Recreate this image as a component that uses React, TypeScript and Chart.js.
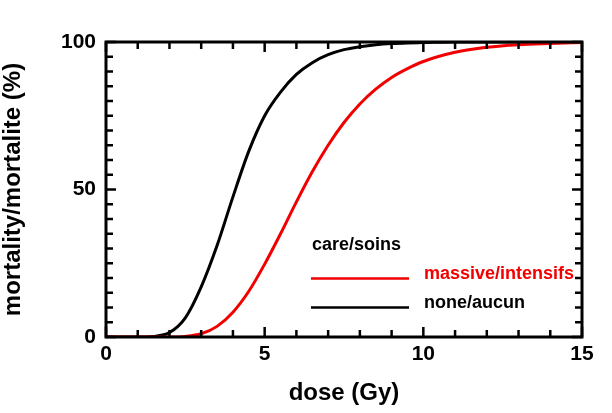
import React, { useEffect, useRef } from "react";
import { Chart, registerables } from "chart.js";

Chart.register(...registerables);

const doses = [0, 1, 1.5, 2, 2.5, 3, 3.5, 4, 4.5, 5, 5.5, 6, 6.5, 7, 7.5, 8, 8.5, 9, 9.5, 10, 11, 12, 13, 14, 15];
const noneMortality = [0, 0, 0.2, 1.5, 6.5, 17, 31, 47.5, 63, 75, 83, 89, 93, 95.7, 97.4, 98.4, 99.1, 99.5, 99.7, 99.8, 100, 100, 100, 100, 100];
const massiveMortality = [0, 0, 0, 0, 0.2, 1.1, 3.6, 8.4, 15.5, 24.7, 35, 45.8, 56, 65, 72.7, 79, 84, 88, 91, 93.4, 96.5, 98.2, 99.1, 99.5, 99.8];

const seriesLabels = ["massive/intensifs", "none/aucun"];
const legendTitle = "care/soins";
const xTitle = "dose (Gy)";
const yTitle = "mortality/mortalite (%)";
const xMajorTicks = [0, 5, 10, 15];
const yMajorTicks = [0, 50, 100];
const xMinorTicks = [1, 2, 3, 4, 6, 7, 8, 9, 11, 12, 13, 14];
const yMinorTicks = [5, 10, 15, 20, 25, 30, 35, 40, 45, 55, 60, 65, 70, 75, 80, 85, 90, 95];

const RED = "#f20000";
const FONT = "'Liberation Sans', Arial, Helvetica, sans-serif";

const framePlugin = {
  id: "frame",
  afterDatasetsDraw(chart: any) {
    const { ctx, chartArea: a, scales } = chart;
    const xs = scales.x;
    const ys = scales.y;
    ctx.save();
    ctx.strokeStyle = "#000";
    ctx.lineWidth = 2.5;
    ctx.beginPath();
    const xt = (v: number, len: number) => {
      const px = xs.getPixelForValue(v);
      ctx.moveTo(px, a.bottom);
      ctx.lineTo(px, a.bottom - len);
      ctx.moveTo(px, a.top);
      ctx.lineTo(px, a.top + len);
    };
    const yt = (v: number, len: number) => {
      const py = ys.getPixelForValue(v);
      ctx.moveTo(a.left, py);
      ctx.lineTo(a.left + len, py);
      ctx.moveTo(a.right, py);
      ctx.lineTo(a.right - len, py);
    };
    xMinorTicks.forEach((v) => xt(v, 7));
    xMajorTicks.forEach((v) => xt(v, 10));
    yMinorTicks.forEach((v) => yt(v, 7));
    yMajorTicks.forEach((v) => yt(v, 10));
    ctx.stroke();
    ctx.lineWidth = 3;
    ctx.strokeRect(a.left, a.top, a.right - a.left, a.bottom - a.top);

    // legend
    const ds = chart.data.datasets;
    ctx.font = `bold 18px ${FONT}`;
    ctx.textAlign = "left";
    ctx.textBaseline = "alphabetic";
    ctx.fillStyle = "#000";
    ctx.fillText(legendTitle, 312, 250);
    const rows = [
      { y: 278.5, tb: 279 },
      { y: 307.5, tb: 308 },
    ];
    ds.forEach((d: any, i: number) => {
      ctx.strokeStyle = d.borderColor;
      ctx.lineWidth = 2.5;
      ctx.beginPath();
      ctx.moveTo(311, rows[i].y);
      ctx.lineTo(409, rows[i].y);
      ctx.stroke();
      ctx.fillStyle = d.borderColor;
      ctx.fillText(d.label, 424, rows[i].tb);
    });
    ctx.restore();
  },
};

export default function App() {
  const ref = useRef<HTMLCanvasElement | null>(null);
  useEffect(() => {
    if (!ref.current) return;
    const chart = new Chart(ref.current, {
      type: "line",
      data: {
        datasets: [
          {
            label: seriesLabels[0],
            data: doses.map((d, i) => ({ x: d, y: massiveMortality[i] })),
            borderColor: RED,
            borderWidth: 3,
            pointRadius: 0,
            cubicInterpolationMode: "monotone",
            fill: false,
          },
          {
            label: seriesLabels[1],
            data: doses.map((d, i) => ({ x: d, y: noneMortality[i] })),
            borderColor: "#000000",
            borderWidth: 3,
            pointRadius: 0,
            cubicInterpolationMode: "monotone",
            fill: false,
          },
        ],
      },
      options: {
        animation: false,
        responsive: false,
        devicePixelRatio: 1,
        layout: { padding: { left: 0, top: 42, right: 30, bottom: 0 } },
        plugins: { legend: { display: false }, tooltip: { enabled: false } },
        scales: {
          x: {
            type: "linear",
            min: 0,
            max: 15,
            grid: { display: false, drawTicks: false },
            border: { display: false },
            afterBuildTicks: (s: any) => {
              s.ticks = xMajorTicks.map((v) => ({ value: v }));
            },
            afterFit: (s: any) => {
              s.height = 76;
            },
            ticks: {
              padding: 5,
              color: "#000",
              font: { family: FONT, size: 21, weight: "bold", lineHeight: 1.2 },
            },
            title: {
              display: true,
              text: xTitle,
              color: "#000",
              font: { family: FONT, size: 24, weight: "bold", lineHeight: 1 },
              padding: { top: 0, bottom: 8 },
            },
          },
          y: {
            type: "linear",
            min: 0,
            max: 100,
            grid: { display: false, drawTicks: false },
            border: { display: false },
            afterBuildTicks: (s: any) => {
              s.ticks = yMajorTicks.map((v) => ({ value: v }));
            },
            afterFit: (s: any) => {
              s.width = 106;
            },
            ticks: {
              padding: 10,
              color: "#000",
              font: { family: FONT, size: 21, weight: "bold" },
            },
            title: {
              display: true,
              text: yTitle,
              color: "#000",
              font: { family: FONT, size: 24, weight: "bold", lineHeight: 1 },
              padding: { top: 1.5, bottom: 0 },
            },
          },
        },
      },
      plugins: [framePlugin],
    } as any);
    return () => chart.destroy();
  }, []);
  return (
    <div style={{ position: "absolute", left: 0, top: 0, width: 612, height: 413, background: "#fff" }}>
      <canvas ref={ref} width={612} height={413} />
    </div>
  );
}
